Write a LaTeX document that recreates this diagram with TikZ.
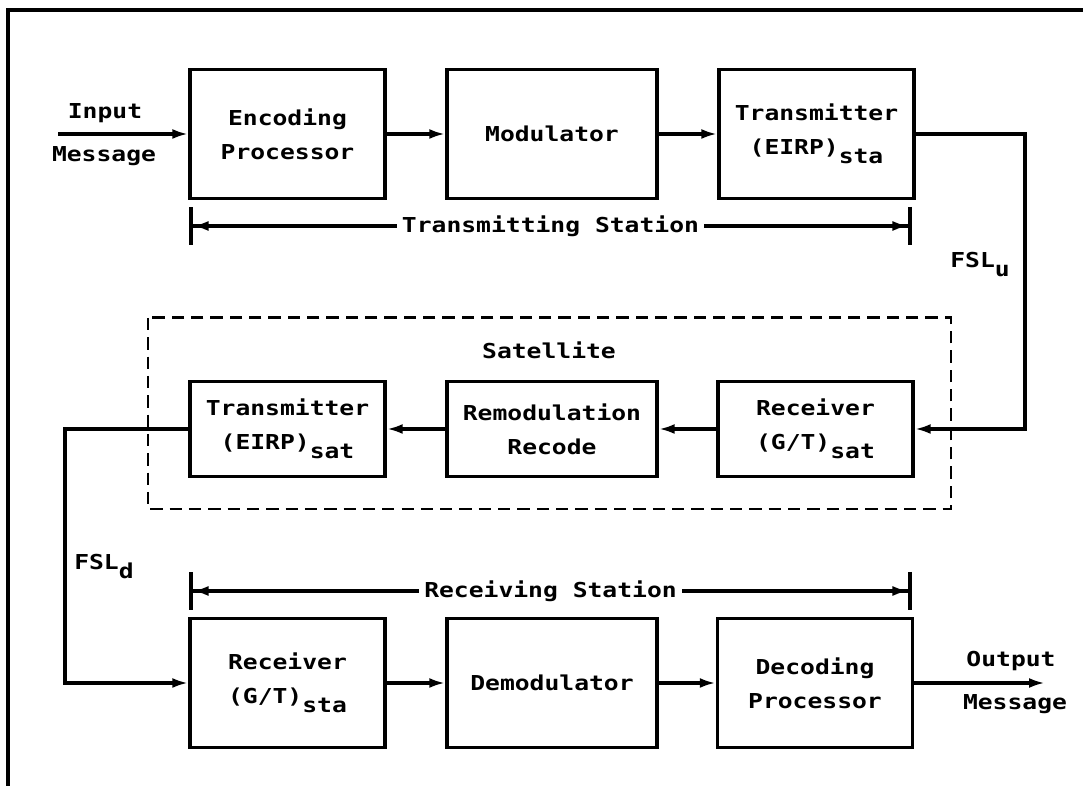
\documentclass[tikz,border=0pt]{standalone}
\usepackage{fontspec}
\newfontfamily\plotfont{DejaVu Sans Mono}[FakeStretch=1.2]
\usetikzlibrary{arrows.meta}

\newcommand{\lowsub}[1]{\raisebox{-0.8ex}{#1}}

\tikzset{
  every node/.style={font=\plotfont\bfseries\fontsize{11.7}{19.3}\selectfont},
  blk/.style={draw, line width=2pt, align=center, inner sep=2pt},
  wide/.style={minimum width=4.2cm},
  narrow/.style={minimum width=3.9cm},
  tall/.style={minimum height=2.58cm},
  short/.style={minimum height=1.9cm},
  flow/.style={line width=2pt, -{Latex[length=3.2mm,width=2mm]}},
  span/.style={line width=2pt,
    {Bar[width=7.6mm]Latex[length=3.2mm,width=2mm]}-{Latex[length=3.2mm,width=2mm]Bar[width=7.6mm]}},
  lbl/.style={fill=white, inner xsep=3pt, inner ysep=1pt}
}

\begin{document}
\begin{tikzpicture}[x=0.02cm, y=-0.02cm]
  \useasboundingbox (0,0) rectangle (1083,786);

  % Frame
  \draw[line width=1.8pt] (8,786) -- (8,10) -- (1083,10);

  % Transmitting station
  \node[blk, narrow, tall] (enc) at (287.5,134) {Encoding\\Processor};
  \node[blk, wide, tall] (mod) at (552,134) {Modulator};
  \node[blk, narrow, tall] (txsta) at (816.5,134) {Transmitter\\(EIRP)\lowsub{sta}};

  \coordinate (in) at (58,134);
  \node (inlbl) at (105,113) {Input};
  \node (inmsg) at (104,156) {Message};
  \draw[flow] (in) -- (enc);
  \draw[flow] (enc) -- (mod);
  \draw[flow] (mod) -- (txsta);

  \coordinate (ts1) at (189,226);
  \coordinate (ts2) at (912,226);
  \draw[span] (ts1) -- (ts2) node[midway, lbl] (tslbl) {Transmitting Station};

  % Uplink
  \coordinate (up) at (1025,0);
  \node (fslu) at (980,265) {FSL\lowsub{u}};

  % Satellite
  \draw[line width=1.7pt, dash pattern=on 7pt off 4pt] (148,318) rectangle (951,509);
  \node (satlbl) at (549,350) {Satellite};
  \node[blk, narrow, short] (txsat) at (287.5,429) {Transmitter\\(EIRP)\lowsub{sat}};
  \node[blk, wide, short] (remod) at (552,429) {Remodulation\\Recode};
  \node[blk, narrow, short] (rxsat) at (815.5,429) {Receiver\\(G/T)\lowsub{sat}};

  \draw[flow] (txsta.east) -- (txsta.east -| up) |- (rxsat.east);
  \draw[flow] (rxsat) -- (remod);
  \draw[flow] (remod) -- (txsat);

  % Downlink
  \coordinate (dn) at (65,0);
  \node (fsld) at (104,567) {FSL\lowsub{d}};

  % Receiving station
  \node[blk, narrow, tall] (rxsta) at (287.5,683) {Receiver\\(G/T)\lowsub{sta}};
  \node[blk, wide, tall] (demod) at (552,683) {Demodulator};
  \node[blk, narrow, tall] (dec) at (815,683) {Decoding\\Processor};

  \draw[flow] (txsat.west) -- (txsat.west -| dn) |- (rxsta.west);
  \draw[flow] (rxsta) -- (demod);
  \draw[flow] (demod) -- (dec);

  \coordinate (out) at (1045,683);
  \node (outlbl) at (1011,661) {Output};
  \node (outmsg) at (1015,704) {Message};
  \draw[flow] (dec) -- (out);

  \coordinate (rs1) at (189,591);
  \coordinate (rs2) at (912,591);
  \draw[span] (rs1) -- (rs2) node[midway, lbl] (rslbl) {Receiving Station};
\end{tikzpicture}
\end{document}
